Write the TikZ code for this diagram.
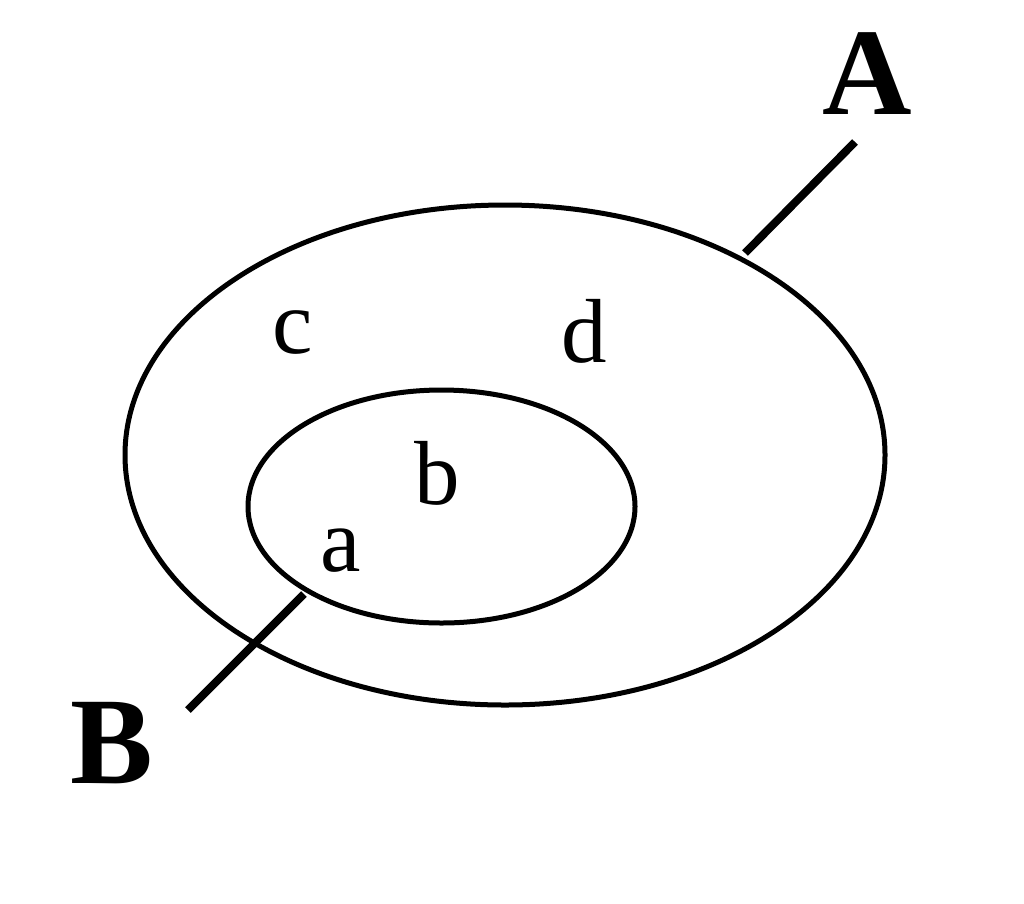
\documentclass[tikz,border=0pt]{standalone}
\usepackage{fontspec}
\setmainfont{Liberation Serif}
\begin{document}
\begin{tikzpicture}[x=1pt,y=-1pt,
  ring/.style={draw=black,line width=5pt},
  stem/.style={draw=black,line width=8pt},
  small/.style={inner sep=0pt,font=\fontsize{91}{91}\selectfont},
  big/.style={inner sep=0pt,font=\fontsize{124}{124}\selectfont\bfseries}]
\useasboundingbox (0,0) rectangle (1024,903);
\draw[ring] (505,455) ellipse [x radius=380, y radius=250];
\draw[ring] (441.5,506.5) ellipse [x radius=193.5, y radius=116.5];
\coordinate (aend) at (855,142);
\coordinate (aout) at (745,253);
\coordinate (bend) at (188,710);
\coordinate (bin) at (304,594);
\draw[stem] (aend) -- (aout);
\draw[stem] (bend) -- (bin);
\node[big] (A) at (867,74) {A};
\node[big] (B) at (112,743) {B};
\node[small] (c) at (293,332) {c};
\node[small] (d) at (584,331) {d};
\node[small] (b) at (437,473) {b};
\node[small] (a) at (341,551) {a};
\end{tikzpicture}
\end{document}
